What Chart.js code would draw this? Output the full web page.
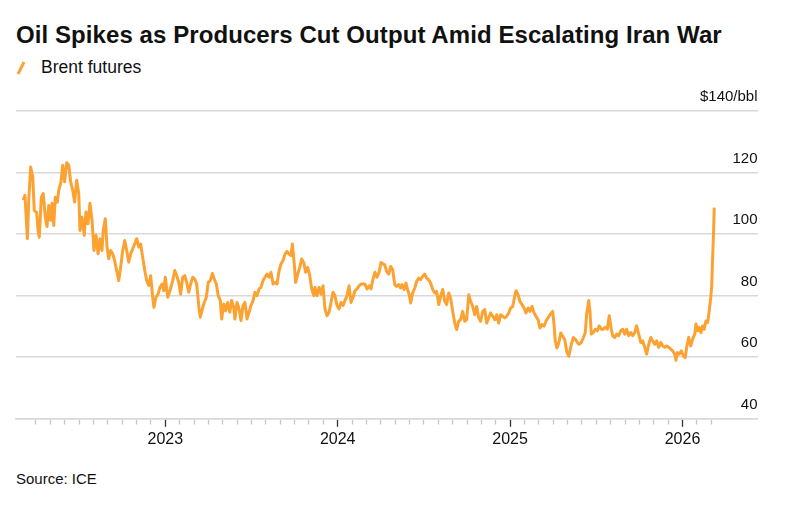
<!DOCTYPE html>
<html>
<head>
<meta charset="utf-8">
<script src="https://cdn.jsdelivr.net/npm/chart.js@4.4.1/dist/chart.umd.min.js"></script>
<style>
  html, body { margin: 0; padding: 0; background: #fff; }
  body { width: 792px; height: 507px; position: relative; overflow: hidden; font-family: "Liberation Sans", Arial, sans-serif; color: #111; }
  #titulo { position: absolute; left: 16px; top: 21px; font-size: 24px; font-weight: bold; white-space: nowrap; letter-spacing: 0.08px; }
  #legenda { position: absolute; left: 16px; top: 57px; font-size: 17.5px; white-space: nowrap; }
  #legenda svg { vertical-align: -2px; margin-right: 15px; }
  #fonte { position: absolute; left: 16px; top: 470px; font-size: 15px; }
  #grafico { position: absolute; left: 0; top: 0; }
</style>
</head>
<body>
<div id="titulo">Oil Spikes as Producers Cut Output Amid Escalating Iran War</div>
<div id="legenda"><svg width="10" height="14"><line x1="2" y1="13" x2="8" y2="1" stroke="#fba232" stroke-width="3"/></svg>Brent futures</div>
<div id="fonte">Source: ICE</div>
<canvas id="grafico" width="792" height="507"></canvas>
<script>
// datas em fração de ano
var datas = [
  2022.176, 2022.186, 2022.200, 2022.208, 2022.219, 2022.231, 2022.240, 2022.254, 2022.262, 2022.269,
  2022.281, 2022.292, 2022.304, 2022.314, 2022.324, 2022.335, 2022.343, 2022.353, 2022.362, 2022.374,
  2022.382, 2022.395, 2022.405, 2022.416, 2022.428, 2022.440, 2022.451, 2022.463, 2022.474, 2022.486,
  2022.498, 2022.505, 2022.517, 2022.530, 2022.540, 2022.552, 2022.563, 2022.575, 2022.586, 2022.598,
  2022.610, 2022.621, 2022.633, 2022.640, 2022.652, 2022.662, 2022.672, 2022.683, 2022.695, 2022.706,
  2022.718, 2022.730, 2022.741, 2022.753, 2022.765, 2022.776, 2022.788, 2022.799, 2022.811, 2022.822,
  2022.834, 2022.846, 2022.857, 2022.869, 2022.881, 2022.892, 2022.904, 2022.915, 2022.927, 2022.934,
  2022.946, 2022.958, 2022.969, 2022.981, 2022.991, 2023.000, 2023.014, 2023.027, 2023.043, 2023.055,
  2023.066, 2023.078, 2023.089, 2023.101, 2023.113, 2023.124, 2023.136, 2023.147, 2023.159, 2023.171,
  2023.182, 2023.195, 2023.203, 2023.215, 2023.226, 2023.238, 2023.249, 2023.261, 2023.273, 2023.284,
  2023.296, 2023.307, 2023.319, 2023.327, 2023.339, 2023.350, 2023.362, 2023.374, 2023.385, 2023.397,
  2023.404, 2023.416, 2023.428, 2023.439, 2023.451, 2023.462, 2023.474, 2023.486, 2023.497, 2023.509,
  2023.520, 2023.532, 2023.544, 2023.555, 2023.567, 2023.578, 2023.590, 2023.601, 2023.613, 2023.625,
  2023.636, 2023.648, 2023.660, 2023.671, 2023.683, 2023.694, 2023.706, 2023.718, 2023.729, 2023.737,
  2023.748, 2023.756, 2023.768, 2023.780, 2023.791, 2023.803, 2023.814, 2023.826, 2023.838, 2023.849,
  2023.861, 2023.868, 2023.880, 2023.892, 2023.903, 2023.915, 2023.926, 2023.938, 2023.950, 2023.961,
  2023.973, 2023.984, 2023.996, 2024.008, 2024.019, 2024.031, 2024.042, 2024.054, 2024.066, 2024.077,
  2024.089, 2024.100, 2024.112, 2024.124, 2024.135, 2024.147, 2024.158, 2024.170, 2024.182, 2024.193,
  2024.205, 2024.216, 2024.228, 2024.240, 2024.251, 2024.263, 2024.273, 2024.284, 2024.296, 2024.307,
  2024.319, 2024.331, 2024.342, 2024.354, 2024.365, 2024.373, 2024.385, 2024.396, 2024.408, 2024.415,
  2024.423, 2024.435, 2024.447, 2024.458, 2024.470, 2024.481, 2024.493, 2024.505, 2024.516, 2024.528,
  2024.539, 2024.551, 2024.563, 2024.574, 2024.586, 2024.597, 2024.609, 2024.621, 2024.632, 2024.644,
  2024.655, 2024.667, 2024.679, 2024.690, 2024.702, 2024.713, 2024.725, 2024.737, 2024.748, 2024.760,
  2024.771, 2024.783, 2024.795, 2024.806, 2024.818, 2024.829, 2024.841, 2024.853, 2024.864, 2024.876,
  2024.887, 2024.899, 2024.911, 2024.922, 2024.934, 2024.945, 2024.957, 2024.969, 2024.980, 2024.992,
  2025.003, 2025.015, 2025.027, 2025.034, 2025.046, 2025.057, 2025.069, 2025.081, 2025.092, 2025.104,
  2025.115, 2025.127, 2025.139, 2025.150, 2025.162, 2025.173, 2025.185, 2025.197, 2025.208, 2025.220,
  2025.231, 2025.247, 2025.255, 2025.262, 2025.272, 2025.282, 2025.294, 2025.305, 2025.317, 2025.328,
  2025.340, 2025.355, 2025.367, 2025.378, 2025.390, 2025.401, 2025.413, 2025.425, 2025.436, 2025.444,
  2025.456, 2025.463, 2025.471, 2025.483, 2025.494, 2025.506, 2025.517, 2025.529, 2025.541, 2025.552,
  2025.564, 2025.575, 2025.587, 2025.595, 2025.607, 2025.618, 2025.630, 2025.642, 2025.653, 2025.665,
  2025.676, 2025.688, 2025.700, 2025.711, 2025.723, 2025.734, 2025.746, 2025.758, 2025.769, 2025.781,
  2025.792, 2025.804, 2025.816, 2025.827, 2025.839, 2025.850, 2025.862, 2025.874, 2025.885, 2025.897,
  2025.908, 2025.920, 2025.932, 2025.943, 2025.955, 2025.962, 2025.970, 2025.981, 2025.993, 2026.005,
  2026.016, 2026.024, 2026.036, 2026.048, 2026.059, 2026.071, 2026.078, 2026.088, 2026.097, 2026.107,
  2026.117, 2026.126, 2026.136, 2026.146, 2026.155, 2026.164, 2026.169, 2026.175, 2026.181, 2026.184
];

// Brent, US$/barril
var brent = [
  111, 112.6, 98.5, 111, 121.8, 118.6, 107.7, 107, 101.2, 99,
  112, 113.2, 105.5, 102.5, 109.3, 104.5, 110, 102.8, 112, 110.4,
  114.2, 117, 122.4, 117, 123.2, 122.4, 117, 114.2, 110.4, 117.5,
  113.2, 101.2, 105.5, 99.6, 107.2, 103.4, 110, 104.5, 94.7, 99.6,
  93.6, 98.5, 94.7, 101.2, 105, 95.8, 92, 94.7, 93.6, 91.4,
  88.2, 84.9, 89.2, 94.7, 97.9, 94.7, 90.9, 93.6, 95.2, 96.8,
  98.5, 95.8, 96.8, 92.5, 88.2, 84.9, 83.3, 86.5, 79.5, 76.2,
  79.5, 80.5, 82.7, 83.8, 81.6, 86, 79.5, 81.6, 84.9, 88.2,
  86.5, 84.3, 80.5, 86, 86.5, 84.3, 81.1, 83.8, 86, 85.4,
  83.8, 76.2, 73, 75.7, 77.8, 79.5, 84.3, 84.9, 87.2, 85.4,
  83.8, 80, 78.4, 72.4, 77.3, 75.1, 77.8, 74.6, 78.4, 76.2,
  72.4, 77.8, 75.7, 71.9, 76.8, 77.8, 72.4, 74.6, 76.8, 78.4,
  81.1, 80, 82.2, 82.7, 84.9, 86, 87, 86, 87.6, 83.8,
  84.3, 83.8, 88.1, 90.3, 91.4, 93.5, 94.4, 93.5, 93, 96.8,
  90.3, 84.3, 87, 89.2, 91.9, 90.8, 87.6, 89.2, 86.5, 82.2,
  80, 82.7, 80, 82.7, 80.5, 83.2, 75.7, 73.5, 74.6, 77.8,
  81.1, 80, 76.8, 75.7, 77.8, 76.8, 78.4, 80, 83.2, 77.8,
  79.5, 81.6, 82.2, 83.2, 83.8, 83.8, 83.8, 82.2, 83.2, 82.2,
  85.4, 87.6, 86, 87.6, 90.8, 90.3, 90, 87.9, 87, 89.5,
  88.4, 83.6, 83, 83.6, 82.5, 83.6, 82, 84.1, 81.4, 80.3,
  77.6, 80.9, 82.5, 84.6, 85.7, 85.2, 86.3, 87, 85.7, 85.2,
  84.1, 82, 80.9, 81.4, 77.1, 79.8, 82, 78.2, 77.1, 80.9,
  79.2, 74.9, 71.1, 69, 71.7, 72.2, 74.9, 71.7, 72.2, 80.3,
  78.2, 76.5, 73.8, 76.5, 72.8, 71.7, 74.9, 75.5, 71.1, 72.8,
  74.4, 73.3, 72.2, 73.8, 71.1, 73.8, 73.3, 72.8, 73.3, 74.4,
  76, 76.5, 79.8, 81.6, 80.3, 78.2, 77.1, 76, 74.4, 76,
  74.9, 76.5, 74.4, 73.3, 72.2, 69.5, 70.6, 70.1, 71.7, 72.8,
  73.8, 74.9, 70.6, 65.2, 63, 64.6, 67.9, 66.8, 65.7, 62,
  60.3, 64.2, 66.4, 65.9, 64.8, 64.2, 64.8, 66.4, 68, 74,
  78.4, 75.1, 67.5, 68, 69.1, 68.6, 70.2, 69.1, 69.1, 69.7,
  69.1, 73.5, 69.1, 67, 66.4, 67.5, 67, 68.6, 69.1, 67.5,
  69.1, 67, 68, 67, 68, 70.2, 67.5, 64.8, 65.3, 63.2,
  61, 64.2, 66.4, 65.3, 64.2, 65.3, 63.2, 64.8, 63.7, 63.2,
  63.7, 63.2, 62.6, 62.1, 61, 59, 61.5, 61, 62.1, 60.4,
  59.9, 63.2, 66.4, 63.7, 65.9, 67.5, 70.8, 68.6, 69.7, 68,
  70.2, 69.1, 71.8, 71.3, 75.1, 79.5, 82.7, 92.5, 102.3, 108.6
];

var anosRotulo = [2023, 2024, 2025, 2026];
var valoresY = [40, 60, 80, 100, 120, 140];

// marcas mensais do eixo x (abr/2022 até mar/2026)
var marcasMes = [];
for (var a = 2022; a <= 2026; a++) {
    for (var m = 0; m < 12; m++) {
        var v = a + m / 12;
        if (v >= 2022.24 && v <= 2026.17) marcasMes.push(v);
    }
}

function ehAno(v) {
    return anosRotulo.some(function (ano) { return Math.abs(ano - v) < 0.001; });
}

var laranja = '#fba232';
var cinza = '#d9d9d9';

Chart.defaults.font.family = '"Liberation Sans", Arial, sans-serif';
Chart.defaults.color = '#111';

var pontos = datas.map(function (d, i) {
    return { x: d, y: brent[i] };
});

var ctx = document.getElementById('grafico').getContext('2d');
var grafico = new Chart(ctx, {
    type: 'line',
    data: {
        datasets: [{
            label: 'Brent futures',
            data: pontos,
            borderColor: laranja,
            borderWidth: 3,
            borderJoinStyle: 'round',
            pointRadius: 0,
            tension: 0,
            fill: false
        }]
    },
    options: {
        responsive: false,
        animation: false,
        layout: {
            padding: { left: 16, right: 34.5, top: 111, bottom: 55 }
        },
        plugins: {
            legend: { display: false },
            tooltip: { enabled: false }
        },
        scales: {
            x: {
                type: 'linear',
                min: 2022.134,
                max: 2026.435,
                afterBuildTicks: function (scale) {
                    scale.ticks = marcasMes.map(function (v) { return { value: v }; });
                },
                ticks: {
                    autoSkip: false,
                    maxRotation: 0,
                    padding: 3,
                    font: { size: 16 },
                    color: '#111',
                    callback: function (valor) {
                        return ehAno(valor) ? String(Math.round(valor)) : '';
                    }
                },
                grid: {
                    drawOnChartArea: false,
                    drawTicks: true,
                    tickLength: 8,
                    tickWidth: 1.3,
                    tickColor: function (c) {
                        return c.tick && ehAno(c.tick.value) ? '#333' : '#c6c6c6';
                    },
                    tickBorderDash: function (c) {
                        return c.tick && ehAno(c.tick.value) ? [] : [5, 20];
                    }
                },
                border: { display: true, color: cinza, width: 1.5 }
            },
            y: {
                type: 'linear',
                position: 'right',
                min: 40,
                max: 140,
                afterBuildTicks: function (scale) {
                    scale.ticks = valoresY.map(function (v) { return { value: v }; });
                },
                ticks: {
                    mirror: true,
                    padding: 0,
                    labelOffset: -14,
                    font: { size: 15 },
                    color: '#111',
                    callback: function (valor) {
                        return valor === 140 ? '$140/bbl' : String(valor);
                    }
                },
                grid: {
                    color: cinza,
                    lineWidth: 1.5,
                    drawTicks: false
                },
                border: { display: false }
            }
        }
    }
});
</script>
</body>
</html>
